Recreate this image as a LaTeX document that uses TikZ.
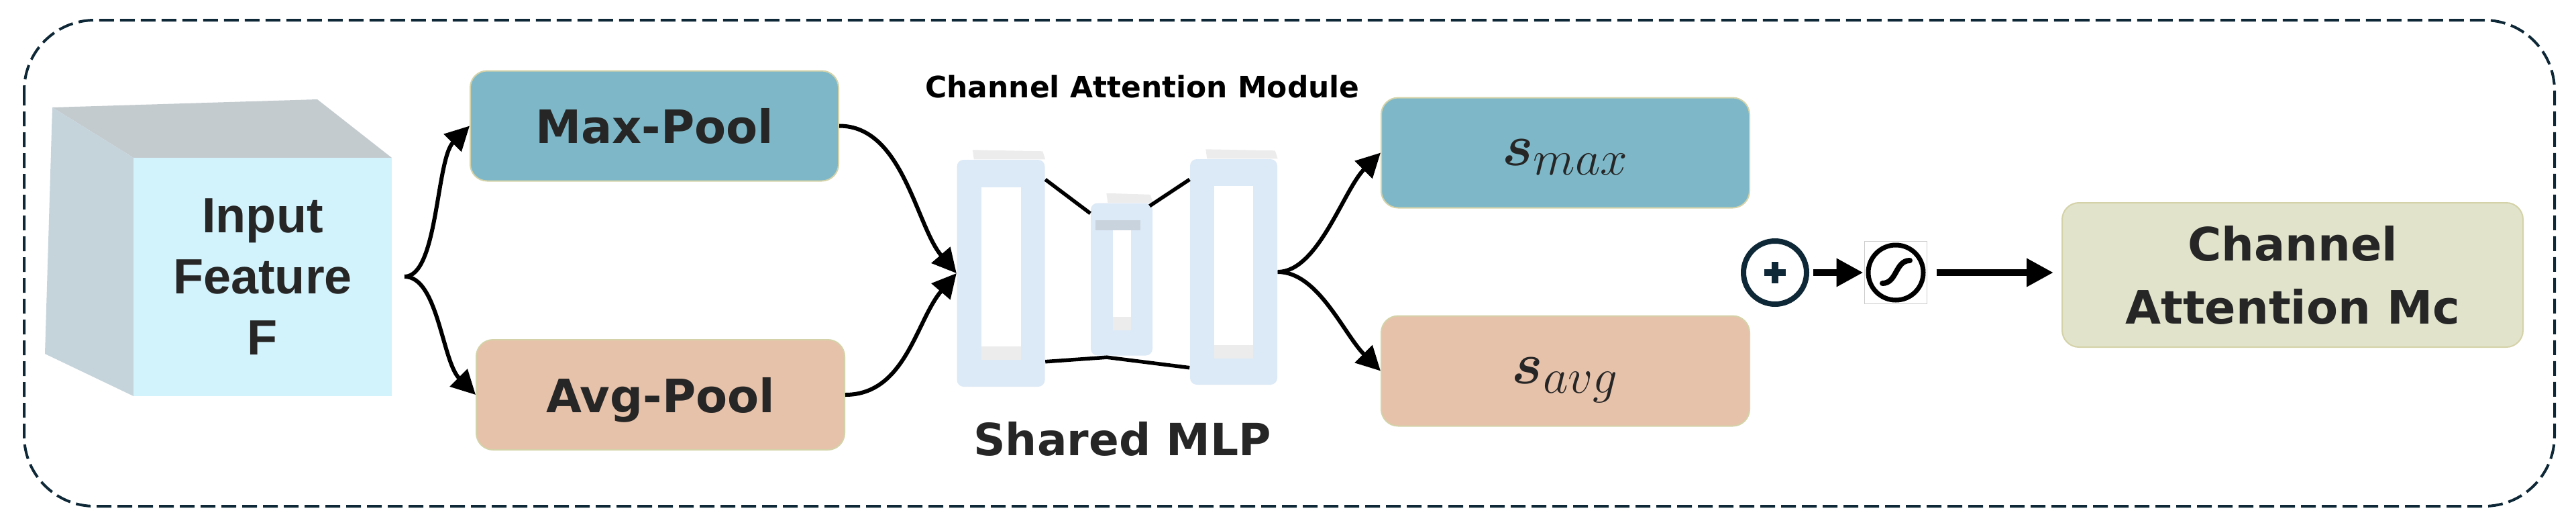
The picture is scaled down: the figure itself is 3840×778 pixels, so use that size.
\documentclass[tikz,border=0pt]{standalone}
\usepackage{fontspec}
\setmainfont{DejaVu Sans}
\newfontfamily\cubefont{Liberation Sans}
\usepackage{amsmath, amssymb}
\usepackage{tikz}
\usetikzlibrary{arrows.meta, positioning, calc}

\definecolor{poolblue}{RGB}{126, 184, 200}
\definecolor{poolpeach}{RGB}{231, 194, 171}
\definecolor{outsage}{RGB}{225, 227, 203}
\definecolor{edgeolive}{RGB}{212, 210, 168}
\definecolor{framenavy}{RGB}{14, 40, 55}
\definecolor{cubefront}{RGB}{210, 242, 252}
\definecolor{cubetop}{RGB}{196, 203, 207}
\definecolor{cubeside}{RGB}{197, 212, 219}
\definecolor{layerblue}{RGB}{220, 233, 246}
\definecolor{layercap}{RGB}{236, 236, 236}
\definecolor{layershade}{RGB}{201, 211, 222}

\begin{document}
\begin{tikzpicture}[x=0.1mm, y=-0.1mm,
  box/.style={draw=edgeolive, line width=0.2mm, rounded corners=2.5mm, minimum width=54.9mm, minimum height=16.4mm, align=center, text depth=0pt, text=black!85, font=\fontsize{19.5}{26.7}\selectfont\bfseries},
  layer/.style={fill=layerblue, rounded corners=1mm, inner sep=0pt},
  link/.style={line width=0.6mm, -{Triangle[length=3.6mm, width=3.6mm]}},
  wire/.style={line width=0.55mm},
  flow/.style={line width=1mm, -{Triangle[length=4mm, width=4mm]}},
  op/.style={circle, minimum size=9.4mm, inner sep=0pt}
]
  \useasboundingbox (0,0) rectangle (3840,778);
  \draw[framenavy, line width=0.4mm, dash pattern=on 2.2mm off 0.9mm, rounded corners=10.5mm] (36,30) rectangle (3808,754);

  % input cube
  \fill[cubetop] (78,160) -- (473,148) -- (584,235) -- (199,235) -- cycle;
  \fill[cubeside] (78,160) -- (199,235) -- (199,590) -- (67,527) -- cycle;
  \node[fill=cubefront, minimum width=38.5mm, minimum height=35.5mm, inner sep=0pt, align=center, text=black!85, font=\cubefont\fontsize{21}{25.9}\selectfont\bfseries] (input) at (391.5,412.5) {Input\\Feature\\F};
  \coordinate (fork) at (603,412);

  \node[box, fill=poolblue] (maxpool) at (975.5,187.5) {Max-Pool};
  \node[box, fill=poolpeach] (avgpool) at (984.5,588) {Avg-Pool};

  % shared MLP
  \node[layer, minimum width=13.1mm, minimum height=33.8mm] (l1) at (1492,407) {};
  \node[layer, minimum width=9.2mm, minimum height=22.7mm] (l2) at (1672,416) {};
  \node[layer, minimum width=13mm, minimum height=33.6mm] (l3) at (1839,405) {};
  \foreach \n/\w/\h in {l1/59/257, l2/27/151, l3/58/257} {
    \fill[white] ($(\n)+(-\w/2,-\h/2)$) rectangle ($(\n)+(\w/2,\h/2)$);
    \fill[layercap] ($(\n)+(-\w/2,\h/2-20)$) rectangle ($(\n)+(\w/2,\h/2)$);
    \fill[layercap] ($(\n.north west)+(24,-14)$) -- ($(\n.north east)+(-4,-12)$) -- (\n.north east) -- ($(\n.north west)+(26,0)$) -- cycle;
  }
  \fill[layershade] ($(l2)+(-39,-88)$) rectangle ($(l2)+(28,-73)$);
  \draw[wire] ($(l1.north east)+(0,30)$) -- ($(l2.north west)+(0,16)$);
  \draw[wire] ($(l2.north east)+(-5,5)$) -- ($(l3.north west)+(0,31)$);
  \draw[wire] ($(l1.south east)+(0,-38)$) -- ($(l2.south)+(-22,2)$) -- ($(l3.south west)+(0,-26)$);

  \node[font=\fontsize{12.5}{15}\selectfont\bfseries] (camlabel) at (1703,129) {Channel Attention Module};
  \node[font=\fontsize{18.8}{22}\selectfont\bfseries, text=black!85] (mlplabel) at (1673,654) {Shared MLP};

  \node[box, fill=poolblue, font=\fontsize{28}{32}\selectfont] (smax) at (2333.5,227.5) {$\boldsymbol{s}_{max}$};
  \node[box, fill=poolpeach, font=\fontsize{28}{32}\selectfont] (savg) at (2333.5,552.5) {$\boldsymbol{s}_{avg}$};

  % plus, sigmoid, output
  \node[op, draw=framenavy, line width=0.8mm] (plus) at (2646,406) {};
  \draw[framenavy, line width=1mm] ($(plus)+(-16,0)$) -- ($(plus)+(16,0)$) ($(plus)+(0,-16)$) -- ($(plus)+(0,16)$);
  \node[op, draw=black, minimum size=8.2mm, line width=0.7mm] (sig) at (2826,406) {};
  \draw[black!20, line width=0.1mm] ($(sig)+(-47,-47)$) rectangle ($(sig)+(46,46)$);
  \draw[line width=0.8mm, line cap=round] ($(sig)+(-20,16)$) .. controls ($(sig)+(2,16)$) and ($(sig)+(-1,-18)$) .. ($(sig)+(21,-18)$);
  \node[box, fill=outsage, minimum width=68.7mm, minimum height=21.5mm] (mc) at (3417.5,409.5) {Channel\\Attention Mc};

  \draw[link] (fork) .. controls +(50,0) and +(-50,50) .. (maxpool.west);
  \draw[link] (fork) .. controls +(50,0) and +(-50,-50) .. (avgpool.west);
  \draw[link] (maxpool.east) .. controls +(95,0) and +(-60,-70) .. (l1.west);
  \draw[link] (avgpool.east) .. controls +(90,0) and +(-60,70) .. (l1.west);
  \draw[link] (l3.east) .. controls +(60,0) and +(-55,55) .. (smax.west);
  \draw[link] (l3.east) .. controls +(60,0) and +(-55,-55) .. (savg.west);
  \draw[flow, shorten <=0.6mm, shorten >=0.4mm] (plus) -- (sig);
  \draw[flow, shorten <=1.6mm, shorten >=1.2mm] (sig) -- (mc.west |- sig);
\end{tikzpicture}
\end{document}
